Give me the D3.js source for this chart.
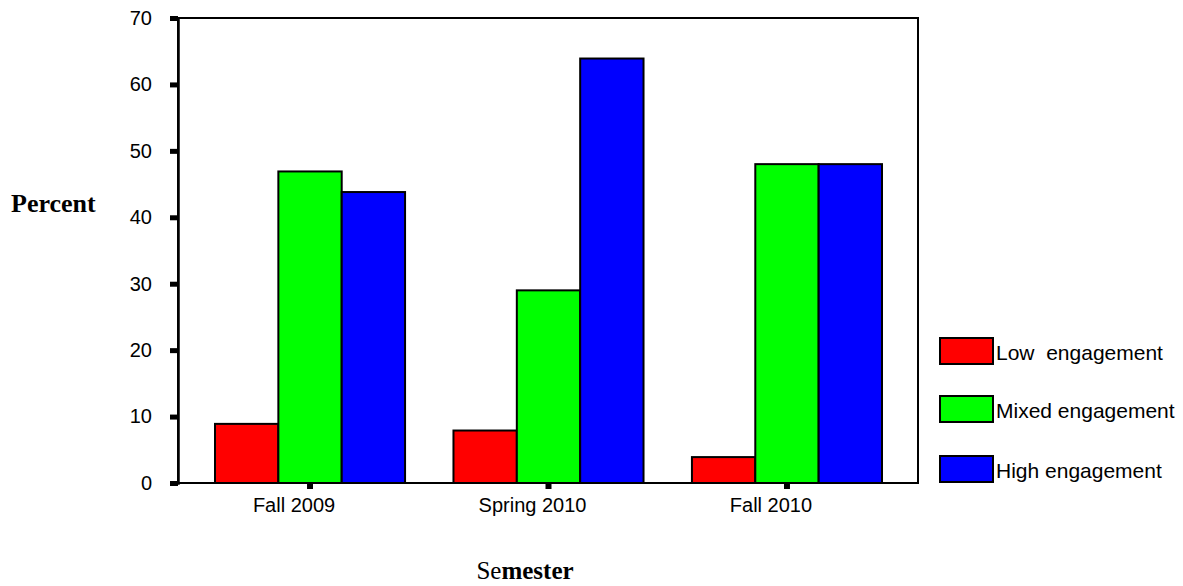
<!DOCTYPE html>
<html><head><meta charset="utf-8">
<script src="https://cdn.jsdelivr.net/npm/d3@7"></script>
<style>body{margin:0;background:#fff}svg{display:block}</style>
</head><body>
<svg id="chart" width="1183" height="586"></svg>
<script>
const categories = ["Fall 2009", "Spring 2010", "Fall 2010"];
const seriesNames = ["Low  engagement", "Mixed engagement", "High engagement"];
const seriesColors = ["#ff0000", "#00ff00", "#0000ff"];
const lowValues = [8.9, 7.9, 3.9];
const mixedValues = [46.9, 29.0, 48.0];
const highValues = [43.8, 63.9, 48.0];
const yTicks = [0, 10, 20, 30, 40, 50, 60, 70];

const seriesValues = [lowValues, mixedValues, highValues];
const svg = d3.select("#chart");
const L = 178, R = 918, T = 18, B = 483;
const sans = "Liberation Sans, Arial, sans-serif";
const serif = "Liberation Serif, Times New Roman, serif";

const y = d3.scaleLinear().domain([0, 70]).range([B, T]);
const x0 = d3.scaleBand().domain(categories).range([215, 882]).paddingInner(0.203).paddingOuter(0);
const x1 = d3.scaleBand().domain(d3.range(3)).range([0, x0.bandwidth()]);

// frame
svg.append("rect").attr("x", L).attr("y", T).attr("width", R - L).attr("height", B - T)
  .attr("fill", "none").attr("stroke", "#000").attr("stroke-width", 2);

// bars
categories.forEach((c, ci) => {
  seriesValues.forEach((vals, si) => {
    svg.append("rect")
      .attr("x", x0(c) + x1(si))
      .attr("y", y(vals[ci]))
      .attr("width", x1.bandwidth())
      .attr("height", B - y(vals[ci]))
      .attr("fill", seriesColors[si])
      .attr("stroke", "#000").attr("stroke-width", 2);
  });
});

// y axis
const yAxis = d3.axisLeft(y).tickValues(yTicks).tickSize(8).tickPadding(18);
const gy = svg.append("g").attr("transform", `translate(${L},0)`).call(yAxis);
gy.select(".domain").attr("stroke-width", 2.5);
gy.selectAll(".tick line").attr("stroke-width", 5);
gy.selectAll(".tick text").attr("font-family", sans).attr("font-size", 20).attr("fill", "#000");

// x axis
const xAxis = d3.axisBottom(x0).tickSize(6).tickPadding(6);
const gx = svg.append("g").attr("transform", `translate(0,${B})`).call(xAxis);
gx.select(".domain").remove();
gx.selectAll(".tick line").attr("stroke-width", 6);
gx.selectAll(".tick text").attr("font-family", sans).attr("font-size", 20).attr("fill", "#000")
  .attr("dy", "0.85em").attr("dx", -16);

// axis titles
svg.append("text").attr("x", 11).attr("y", 212)
  .attr("font-family", serif).attr("font-size", 26)
  .attr("font-weight", "bold").text("Percent");
const st = svg.append("text").attr("x", 525).attr("y", 579).attr("text-anchor", "middle")
  .attr("font-family", serif).attr("font-size", 25);
st.append("tspan").text("Se");
st.append("tspan").attr("font-weight", "bold").text("mester");

// legend
const legY = [338, 396, 456];
seriesNames.forEach((n, i) => {
  svg.append("rect").attr("x", 940).attr("y", legY[i]).attr("width", 53).attr("height", 26)
    .attr("fill", seriesColors[i]).attr("stroke", "#000").attr("stroke-width", 2);
  svg.append("text").attr("x", 996).attr("y", legY[i] + 22)
    .attr("font-family", sans).attr("font-size", 21)
    .style("white-space", "pre").text(n);
});
</script>
</body></html>
